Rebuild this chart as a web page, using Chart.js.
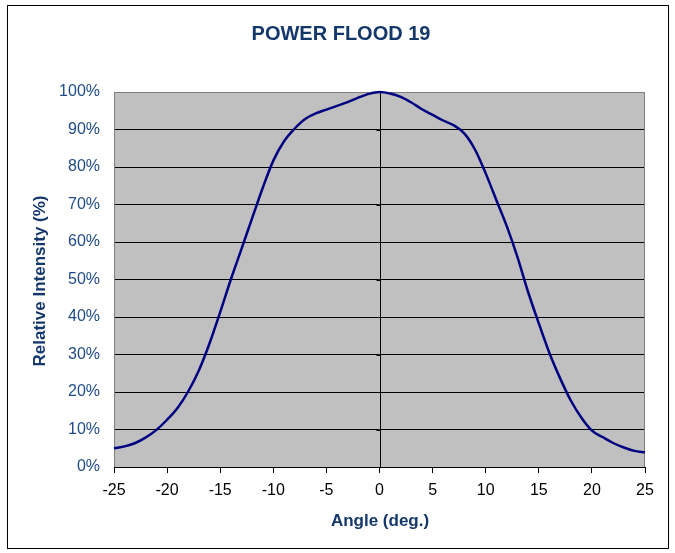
<!DOCTYPE html>
<html><head><meta charset="utf-8">
<script src="https://cdn.jsdelivr.net/npm/chart.js@4"></script>
<style>html,body{margin:0;padding:0;background:#fff}#wrap{position:relative;width:675px;height:553px}</style>
</head><body><div id="wrap"><canvas id="c" width="675" height="553"></canvas></div>
<script>
const angles = [-25,-24,-23,-22,-21,-20,-19,-18,-17,-16,-15,-14,-13,-12,-11,-10,-9,-8,-7,-6,-5,-4,-3,-2,-1,0,1,2,3,4,5,6,7,8,9,10,11,12,13,14,15,16,17,18,19,20,21,22,23,24,25];
const intensity = [5.0,5.5,6.4,7.9,9.9,12.6,15.8,20.2,25.8,33.0,41.3,50.0,58.1,66.3,74.4,81.7,86.8,90.2,92.8,94.3,95.3,96.3,97.3,98.5,99.5,100,99.6,98.7,97.2,95.4,93.9,92.4,91.1,88.9,84.6,78.3,71.2,64.1,55.9,46.6,38.3,30.4,23.7,17.8,13.2,9.7,8.0,6.4,5.2,4.3,3.9];
const xTickValues = [-25,-20,-15,-10,-5,0,5,10,15,20,25];
const yTickValues = [0,10,20,30,40,50,60,70,80,90,100];
const chartTitle = 'POWER FLOOD 19';
const xTitle = 'Angle (deg.)';
const yTitle = 'Relative Intensity (%)';

const NAVY_TEXT = '#14386b';
const points = angles.map((a, i) => ({x: a, y: intensity[i]}));

const decor = {
  id: 'decor',
  beforeDraw(chart) {
    const {ctx, chartArea: a} = chart;
    ctx.save();
    ctx.fillStyle = '#fff';
    ctx.fillRect(0, 0, chart.width, chart.height);
    ctx.strokeStyle = '#000';
    ctx.lineWidth = 1;
    ctx.strokeRect(7.5, 5.5, 661, 543);
    ctx.fillStyle = '#c0c0c0';
    ctx.fillRect(a.left, a.top, a.right - a.left, a.bottom - a.top);
    ctx.restore();
  },
  beforeDatasetsDraw(chart) {
    const {ctx, chartArea: a, scales} = chart;
    ctx.save();
    ctx.strokeStyle = '#808080';
    ctx.lineWidth = 1;
    ctx.strokeRect(a.left + 0.5, a.top + 0.5, a.right - a.left - 1, a.bottom - a.top);
    ctx.strokeStyle = '#000';
    ctx.beginPath();
    ctx.moveTo(a.left, a.bottom + 0.5); ctx.lineTo(a.right, a.bottom + 0.5);
    const x0 = Math.round(scales.x.getPixelForValue(0)) + 0.5;
    ctx.moveTo(x0, a.top); ctx.lineTo(x0, a.bottom);
    yTickValues.forEach(v => {
      const y = Math.round(scales.y.getPixelForValue(v)) + 0.5;
      ctx.moveTo(x0 - 4, y); ctx.lineTo(x0, y);
    });
    ctx.stroke();
    ctx.restore();
  },
  afterDraw(chart) {
    const {ctx} = chart;
    ctx.save();
    ctx.fillStyle = NAVY_TEXT;
    ctx.textAlign = 'center';
    ctx.textBaseline = 'middle';
    ctx.font = 'bold 20px "Liberation Sans", Arial, sans-serif';
    ctx.fillText(chartTitle, 341, 34);
    ctx.font = 'bold 17px "Liberation Sans", Arial, sans-serif';
    ctx.fillText(xTitle, 380, 521);
    ctx.translate(40, 281);
    ctx.rotate(-Math.PI / 2);
    ctx.fillText(yTitle, 0, 0);
    ctx.restore();
  }
};

new Chart(document.getElementById('c'), {
  type: 'line',
  data: {
    datasets: [{
      data: points,
      borderColor: '#000080',
      borderWidth: 2.5,
      pointRadius: 0,
      fill: false,
      cubicInterpolationMode: 'monotone',
      clip: 6
    }]
  },
  options: {
    responsive: false,
    animation: false,
    devicePixelRatio: 1,
    layout: {padding: {left: 0, right: 30, top: 92, bottom: 0}},
    plugins: {legend: {display: false}, tooltip: {enabled: false}, title: {display: false}},
    scales: {
      x: {
        type: 'linear',
        min: -25, max: 25,
        afterFit(s) { s.height = 86; },
        afterBuildTicks(s) { s.ticks = xTickValues.map(v => ({value: v})); },
        grid: {drawOnChartArea: false, drawTicks: true, tickLength: 6, color: '#000', lineWidth: 1},
        border: {display: false},
        ticks: {color: '#000', font: {size: 16, family: '"Liberation Sans", Arial, sans-serif'}, padding: 8, maxRotation: 0, autoSkip: false}
      },
      y: {
        min: 0, max: 100,
        afterFit(s) { s.width = 114; },
        afterBuildTicks(s) { s.ticks = yTickValues.map(v => ({value: v})); },
        grid: {color: '#000', lineWidth: 1, drawTicks: false},
        border: {display: false},
        ticks: {color: '#1f4b87', font: {size: 16, family: '"Liberation Sans", Arial, sans-serif'}, padding: 14, callback: v => v + '%'}
      }
    }
  },
  plugins: [decor]
});
</script></body></html>
